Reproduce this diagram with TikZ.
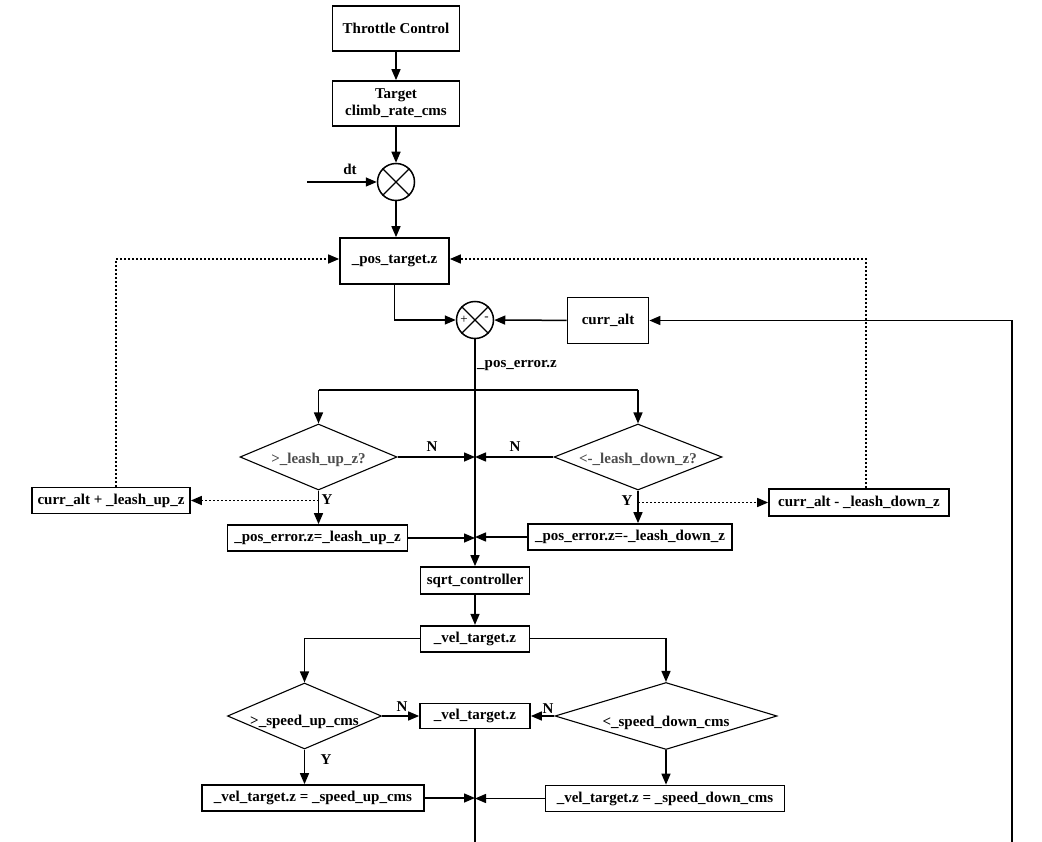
\documentclass[tikz,border=0pt]{standalone}
\usepackage{fontspec}
\setmainfont{Liberation Serif}
\usetikzlibrary{arrows.meta,shapes.geometric}
\tikzset{
  blk/.style={draw, line width=1.7pt, inner sep=0pt, align=center,
    font=\fontsize{15}{17}\selectfont\bfseries},
  dec/.style={draw, diamond, line width=1.1pt, inner sep=0pt, aspect=2.5,
    font=\fontsize{15}{17}\selectfont\bfseries},
  mix/.style={draw, circle, line width=1.5pt, minimum size=37pt, inner sep=0pt},
  lbl/.style={inner sep=0pt, font=\fontsize{15}{17}\selectfont\bfseries},
  flow/.style={line width=1.5pt, -{Triangle[length=11pt,width=9pt]}},
  dots/.style={flow, dash pattern=on 2pt off 2pt},
}
\begin{document}
\begin{tikzpicture}[x=1pt, y=-1pt]
    \useasboundingbox (0,0) rectangle (1042,842);

    % Throttle input and target rate
    \node[blk, minimum width=127pt, minimum height=45pt] (thr) at (396, 28.5) {Throttle Control};
    \node[blk, minimum width=127pt, minimum height=45pt] (tgt) at (396, 103.5) {Target\\climb\_rate\_cms};

    % multiply by dt
    \node[mix] (mul) at (396, 182) {};
    \draw[line width=1.1pt] (mul.north west) -- (mul.south east) (mul.north east) -- (mul.south west);
    \coordinate (dt) at (307, 182);
    \node[lbl] (dtl) at (350, 169) {dt};

    % position target and error
    \node[blk, minimum width=109pt, minimum height=46pt] (pos) at (394.5, 261) {\_pos\_target.z};
    \node[mix] (sum) at (475, 320) {};
    \draw[line width=1.1pt] (sum.north west) -- (sum.south east) (sum.north east) -- (sum.south west);
    \node[font=\fontsize{13}{13}\selectfont] (plus) at (464, 320) {+};
    \node[font=\fontsize{13}{13}\selectfont] (minus) at (486.5, 319) {-};
    \node[blk, minimum width=81pt, minimum height=46pt] (alt) at (608, 320.5) {curr\_alt};
    \node[lbl, anchor=west] (perr) at (477, 366) {\_pos\_error.z};

    % leash checks
    \coordinate (brl) at (318.5, 390);
    \coordinate (brr) at (638, 390);
    \node[dec, minimum width=157pt, minimum height=66pt] (dup) at (318.5, 457) {\raisebox{-6pt}[0pt][0pt]{\color{black!70}>\_leash\_up\_z?}};
    \node[dec, minimum width=168pt, minimum height=66pt] (ddn) at (638, 457) {\raisebox{-6pt}[0pt][0pt]{\color{black!70}<-\_leash\_down\_z?}};
    \node[lbl] (nup) at (432, 447) {N};
    \node[lbl] (ndn) at (515, 447) {N};
    \node[lbl] (yup) at (327, 500) {Y};
    \node[lbl] (ydn) at (627, 501) {Y};

    \node[blk, minimum width=158pt, minimum height=26pt] (aup) at (111, 500.5) {curr\_alt + \_leash\_up\_z};
    \node[blk, minimum width=180pt, minimum height=27pt] (adn) at (859, 502.5) {curr\_alt - \_leash\_down\_z};
    \node[blk, minimum width=180pt, minimum height=26pt] (eup) at (317.5, 538) {\_pos\_error.z=\_leash\_up\_z};
    \node[blk, minimum width=204pt, minimum height=26pt] (edn) at (630, 537) {\_pos\_error.z=-\_leash\_down\_z};

    % sqrt controller and velocity limits
    \node[blk, minimum width=109pt, minimum height=27pt] (sqrt) at (475, 580.5) {sqrt\_controller};
    \node[blk, minimum width=109pt, minimum height=26pt] (vel) at (475, 638.7) {\_vel\_target.z};
    \node[dec, minimum width=154pt, minimum height=66pt] (sup) at (304.5, 716) {\raisebox{-9pt}[0pt][0pt]{>\_speed\_up\_cms}};
    \node[dec, minimum width=222pt, minimum height=67pt] (sdn) at (666, 716) {\raisebox{-10pt}[0pt][0pt]{<\_speed\_down\_cms}};
    \node[blk, minimum width=110pt, minimum height=25pt] (vel2) at (475, 716) {\_vel\_target.z};
    \node[lbl] (nsup) at (402, 707) {N};
    \node[lbl] (nsdn) at (548, 709) {N};
    \node[lbl] (ysup) at (326, 760) {Y};
    \node[blk, minimum width=222pt, minimum height=26pt] (vup) at (313, 798) {\_vel\_target.z = \_speed\_up\_cms};
    \node[blk, minimum width=239pt, minimum height=26pt] (vdn) at (665, 798.5) {\_vel\_target.z = \_speed\_down\_cms};
    \coordinate (out) at (475, 842);
    \coordinate (fb) at (1012, 842);

    % connectors
    \draw[flow] (thr) -- (tgt);
    \draw[flow] (tgt) -- (mul);
    \draw[flow] (dt) -- (mul);
    \draw[flow] (mul) -- (mul |- pos.north);
    \draw[flow] (pos.south) |- (sum.west);
    \draw[flow] (alt) -- (sum);
    \draw[flow] (sum) -- (sqrt);
    \draw[line width=1.5pt] (brl) -- (brr);
    \draw[flow] (brl) -- (dup.north);
    \draw[flow] (brr) -- (ddn.north);
    \draw[flow] (dup.east) -- (dup.east -| sum.south);
    \draw[flow] (ddn.west) -- (ddn.west -| sum.south);
    \draw[flow] (dup.south) -- (dup.south |- eup.north);
    \draw[flow] (ddn.south) -- (ddn.south |- edn.north);
    \draw[dots] (dup.south |- aup.east) -- (aup.east);
    \draw[dots] (ddn.south |- adn.west) -- (adn.west);
    \draw[dots] ([xshift=5pt]aup.north) |- ([yshift=2pt]pos.west);
    \draw[dots] ([xshift=7pt]adn.north) |- ([yshift=2pt]pos.east);
    \draw[flow] (eup.east) -- (eup.east -| sum.south);
    \draw[flow] (edn.west) -- (edn.west -| sum.south);
    \draw[flow] (sqrt) -- (vel);
    \draw[flow] (vel.west) -| (sup.north);
    \draw[flow] (vel.east) -| (sdn.north);
    \draw[flow] (sup.east) -- (vel2.west);
    \draw[flow] (sdn.west) -- (vel2.east);
    \draw[flow] (sup.south) -- (sup.south |- vup.north);
    \draw[flow] (sdn.south) -- (sdn.south |- vdn.north);
    \draw[line width=1.5pt] (vel2) -- (out);
    \draw[flow] (vup.east) -- (vup.east -| vel2.south);
    \draw[flow] (vdn.west) -- (vdn.west -| vel2.south);
    \draw[flow] (fb) |- (alt.east);
\end{tikzpicture}
\end{document}
